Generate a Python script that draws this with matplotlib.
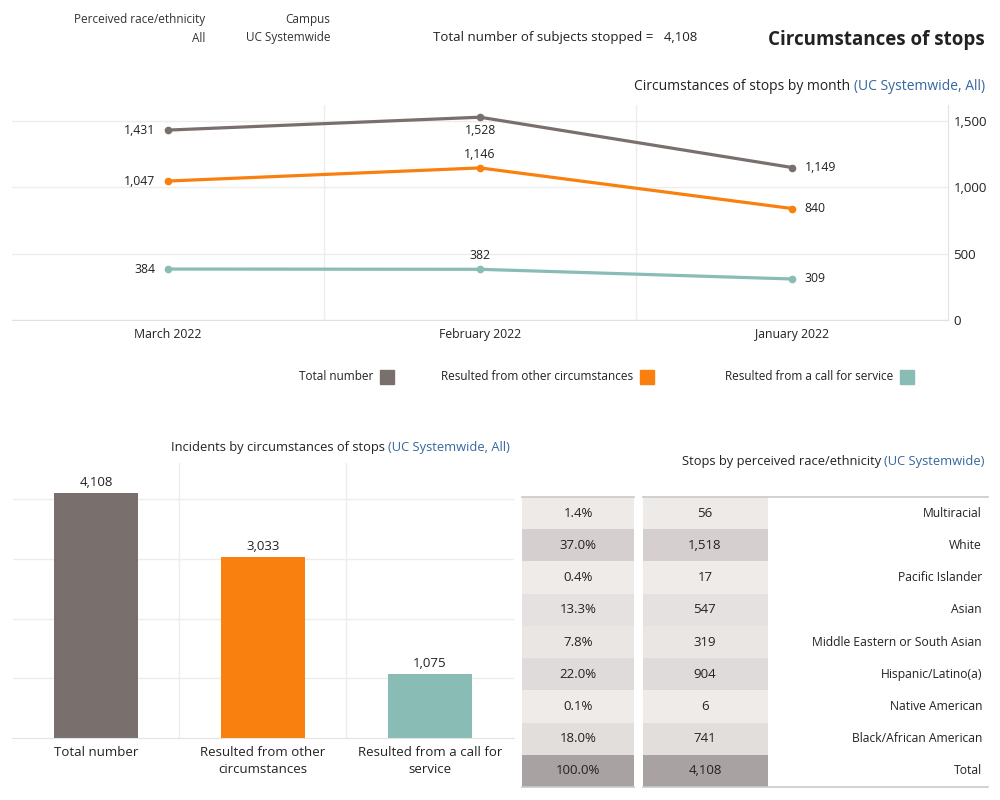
import matplotlib.pyplot as plt
import numpy as np
from matplotlib.colors import LinearSegmentedColormap, Normalize
from matplotlib.ticker import FuncFormatter, FixedLocator

plt.rcParams['font.family'] = ['Open Sans', 'DejaVu Sans']

# data
months = ['January 2022', 'February 2022', 'March 2022']
total_month = [1149, 1528, 1431]
other_month = [840, 1146, 1047]
call_month = [309, 382, 384]

circ_labels = ['Resulted from a call for\nservice', 'Resulted from other\ncircumstances', 'Total number']
circ_values = [1075, 3033, 4108]

races = ['Multiracial', 'White', 'Pacific Islander', 'Asian', 'Middle Eastern or South Asian',
         'Hispanic/Latino(a)', 'Native American', 'Black/African American', 'Total']
race_counts = [56, 1518, 17, 547, 319, 904, 6, 741, 4108]
race_pct = ['1.4%', '37.0%', '0.4%', '13.3%', '7.8%', '22.0%', '0.1%', '18.0%', '100.0%']

c_total = '#79706E'
c_other = '#F9800F'
c_call = '#88BCB5'
c_blue = '#34679C'
c_text = '#333333'
c_grid = '#EDEDED'

fig = plt.figure(figsize=(10, 8), dpi=100)

# header (layout is mirrored like the reference)
fig.text(0.985, 1 - 40/800, 'Circumstances of stops', ha='right', va='center',
         fontsize=13.5, fontweight='bold', color='#222222')
fig.text(0.697, 1 - 37/800, 'Total number of subjects stopped =   4,108', ha='right', va='center',
         fontsize=9.5, color='#222222')
fig.text(0.330, 1 - 20/800, 'Campus', ha='right', va='center', fontsize=8.5, color=c_text)
fig.text(0.330, 1 - 38/800, 'UC Systemwide', ha='right', va='center', fontsize=8.5, color=c_text)
fig.text(0.205, 1 - 20/800, 'Perceived race/ethnicity', ha='right', va='center', fontsize=8.5, color=c_text)
fig.text(0.205, 1 - 38/800, 'All', ha='right', va='center', fontsize=8.5, color=c_text)

# line chart
ax = fig.add_axes([12/1000, 1 - 320/800, 936/1000, 215/800])
x = np.arange(len(months))
for vals, col in [(total_month, c_total), (other_month, c_other), (call_month, c_call)]:
    ax.plot(x, vals, color=col, lw=2.3, marker='o', ms=4.5, solid_capstyle='round')
ax.set_xlim(-0.5, 2.5)
ax.invert_xaxis()
ax.set_ylim(0, 1620)
ax.set_xticks(x)
ax.set_xticklabels(months, fontsize=8.8, color='#222222')
ax.yaxis.tick_right()
ax.set_yticks([0, 500, 1000, 1500])
ax.yaxis.set_major_formatter(FuncFormatter(lambda v, p: f'{int(v):,}'))
ax.xaxis.set_minor_locator(FixedLocator([0.5, 1.5]))
ax.tick_params(axis='both', which='both', length=0, colors='#222222')
ax.tick_params(axis='y', labelsize=9.5, pad=4)
ax.tick_params(axis='x', pad=6)
ax.grid(axis='y', color=c_grid, lw=1)
ax.grid(axis='x', which='minor', color=c_grid, lw=1)
for s in ['top', 'left']:
    ax.spines[s].set_visible(False)
ax.spines['bottom'].set_color('#E2E2E2')
ax.spines['right'].set_color('#E2E2E2')

lab_fs = 8.8
for vals in [total_month, other_month, call_month]:
    # January (right side): label right of point
    ax.annotate(f'{vals[0]:,}', (0, vals[0]), xytext=(9, 0), textcoords='offset points',
                ha='left', va='center', fontsize=lab_fs, color='#222222')
    # March (left side): label left of point
    ax.annotate(f'{vals[2]:,}', (2, vals[2]), xytext=(-9, 0), textcoords='offset points',
                ha='right', va='center', fontsize=lab_fs, color='#222222')
ax.annotate(f'{total_month[1]:,}', (1, total_month[1]), xytext=(0, -5), textcoords='offset points',
            ha='center', va='top', fontsize=lab_fs, color='#222222')
for vals in [other_month, call_month]:
    ax.annotate(f'{vals[1]:,}', (1, vals[1]), xytext=(0, 5), textcoords='offset points',
                ha='center', va='bottom', fontsize=lab_fs, color='#222222')

# legend (square to the right of the label)
for name, col, sx in [('Resulted from a call for service', c_call, 900),
                      ('Resulted from other circumstances', c_other, 640),
                      ('Total number', c_total, 380)]:
    fig.patches.append(plt.Rectangle((sx/1000, 1 - 384/800), 14/1000, 14/800, color=col,
                                     transform=fig.transFigure, figure=fig))
    fig.text((sx - 7)/1000, 1 - 377/800, name, ha='right', va='center', fontsize=8.5, color='#222222')

# bar chart
axb = fig.add_axes([12.5/1000, 1 - 738/800, 501/1000, 275/800])
xb = np.arange(len(circ_labels))
axb.bar(xb, circ_values, width=0.5, color=[c_call, c_other, c_total])
axb.set_xlim(-0.5, 2.5)
axb.invert_xaxis()
axb.set_ylim(0, 4610)
axb.set_yticks([1000, 2000, 3000, 4000])
axb.set_yticklabels([])
axb.set_xticks(xb)
axb.set_xticklabels(circ_labels, fontsize=9.5, color='#222222', linespacing=1.35, va='top')
axb.xaxis.set_minor_locator(FixedLocator([0.5, 1.5]))
axb.tick_params(axis='both', which='both', length=0)
axb.tick_params(axis='x', pad=6)
axb.grid(axis='y', color=c_grid, lw=1)
axb.grid(axis='x', which='minor', color=c_grid, lw=1)
axb.set_axisbelow(True)
for s in ['top', 'left', 'right']:
    axb.spines[s].set_visible(False)
axb.spines['bottom'].set_color('#E2E2E2')
for xi, v in zip(xb, circ_values):
    axb.annotate(f'{v:,}', (xi, v), xytext=(0, 3), textcoords='offset points',
                 ha='center', va='bottom', fontsize=9.5, color='#222222')

# table
axt = fig.add_axes([522/1000, 1 - 787/800, 466/1000, 290/800])
axt.set_xlim(0, 466)
axt.set_ylim(len(races) - 0.5, -0.5)
axt.axis('off')
cmap = LinearSegmentedColormap.from_list('heat', [(0, '#EEEBE9'), (0.37, '#D5D0CF'), (1, '#A8A3A2')])
norm = Normalize(0, max(race_counts))
cell_colors = [cmap(norm(v)) for v in race_counts]
rows = np.arange(len(races))
axt.barh(rows, 112, left=0, height=1, color=cell_colors)
axt.barh(rows, 125, left=121, height=1, color=cell_colors)
for r, name, cnt, pct in zip(rows, races, race_counts, race_pct):
    axt.text(56, r, pct, ha='center', va='center', fontsize=9.5, color='#222222')
    axt.text(183, r, f'{cnt:,}', ha='center', va='center', fontsize=9.5, color='#222222')
    axt.text(460, r, name, ha='right', va='center', fontsize=8.7, color='#222222')
for yy in [-0.5, len(races) - 0.5]:
    axt.plot([0, 112], [yy, yy], color='#C9C9C9', lw=1.2, clip_on=False)
    axt.plot([121, 466], [yy, yy], color='#C9C9C9', lw=1.2, clip_on=False)

# subtitles: black text followed by blue scope text, right aligned
for xr, yy, fs, main, blue in [(985, 87, 10, 'Circumstances of stops by month', '(UC Systemwide, All)'),
                               (510, 447, 9.3, 'Incidents by circumstances of stops', '(UC Systemwide, All)'),
                               (985, 461, 9.3, 'Stops by perceived race/ethnicity', '(UC Systemwide)')]:
    tb = fig.text(xr/1000, 1 - yy/800, blue, ha='right', va='center', fontsize=fs, color=c_blue)
    ax.annotate(main + ' ', xy=(0, 0.5), xycoords=tb, ha='right', va='center',
                fontsize=fs, color='#222222', annotation_clip=False)

fig.savefig('out.png', dpi=100, facecolor='white')
